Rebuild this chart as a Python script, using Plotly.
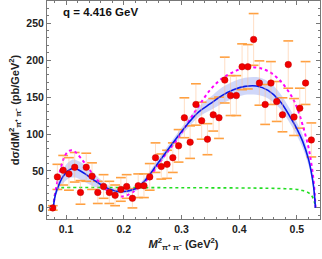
import plotly.graph_objects as go

# ---- data points ----
m2_pts = [0.077, 0.085, 0.095, 0.105, 0.115, 0.125, 0.135, 0.145, 0.155, 0.165,
          0.175, 0.185, 0.195, 0.205, 0.215, 0.225, 0.235, 0.245, 0.255, 0.265,
          0.275, 0.285, 0.295, 0.305, 0.315, 0.325, 0.335, 0.345, 0.355, 0.365,
          0.375, 0.385, 0.395, 0.405, 0.415, 0.425, 0.435, 0.445, 0.455, 0.465,
          0.475, 0.485, 0.495, 0.505, 0.515, 0.525]
xs_pts = [0, 42, 51, 46, 55, 21, 55, 43, 21, 29,
          21, 17, 25, 29, 13, 30, 30, 42, 68, 56,
          59, 68, 84, 122, 89, 140, 118, 93, 126, 122,
          173, 152, 152, 191, 191, 228, 169, 140, 169, 144,
          126, 194, 123, 135, 169, 92]
err_pts = [3, 17, 20, 22, 20, 16, 19, 18, 15, 16,
           15, 14, 16, 16, 13, 16, 16, 18, 20, 17,
           19, 20, 22, 27, 22, 28, 25, 21, 22, 28,
           31, 27, 27, 31, 30, 35, 30, 27, 29, 27,
           23, 32, 25, 27, 29, 23]

# ---- model curves ----
m2_curve = [0.0779, 0.080, 0.083, 0.087, 0.092, 0.097, 0.103, 0.110, 0.117, 0.125,
            0.135, 0.145, 0.155, 0.165, 0.175, 0.185, 0.195, 0.205, 0.215, 0.225,
            0.24, 0.255, 0.27, 0.29, 0.31, 0.33, 0.35, 0.37, 0.39, 0.41,
            0.43, 0.45, 0.47, 0.49, 0.50, 0.51, 0.52, 0.525, 0.529, 0.531, 0.5322]
blue_curve = [0, 12, 22, 30, 39, 45, 50, 53, 53, 50,
              45, 39.5, 34, 29.5, 25.5, 23, 22, 22.5, 24.5, 28,
              40, 56, 72, 93, 113, 130, 141, 152, 160, 164.5,
              165, 159, 145, 121, 107, 90, 66, 48, 28, 12, 0]
band_lo = [0, 10, 18, 24, 31, 35, 39, 41, 41, 38,
           34, 30, 27, 24, 21.5, 20, 19.5, 20, 21.5, 24.5,
           36, 51, 67, 88, 107, 123, 132, 141, 148, 153,
           153, 148, 135, 112, 98, 81, 58, 42, 24, 8, 0]
band_hi = [0, 14, 26, 36, 47, 55, 61, 65, 65, 62,
           56, 49, 42, 35.5, 29.5, 26, 24.5, 25, 27.5, 31.5,
           44, 61, 77, 98, 119, 137, 150, 163, 171, 176,
           177, 171, 156, 131, 116, 99, 74, 54, 32, 14, 0]
magenta_curve = [0, 14, 28, 42, 57, 69, 76, 78, 75, 68,
                 58, 47, 37, 28, 21.5, 17, 15.5, 17, 21, 27,
                 38, 53, 70, 90, 114, 138, 160, 175, 184, 190,
                 190, 185, 173, 152, 136, 112, 82, 60, 36, 17, 0]

m2_green = [0.0779, 0.079, 0.081, 0.084, 0.088, 0.10, 0.20, 0.30, 0.40, 0.45,
            0.48, 0.50, 0.51, 0.52, 0.526, 0.529, 0.531, 0.5322]
green_curve = [0, 12, 20, 25, 27, 27.5, 27.5, 27.3, 27, 26.6,
               26, 25, 23.5, 20.5, 16, 11, 6, 0]

FONT = "Liberation Sans, Arial, sans-serif"

fig = go.Figure()

# uncertainty band
fig.add_trace(go.Scatter(x=m2_curve, y=band_lo, mode="lines", line=dict(width=0, shape="spline"),
                         hoverinfo="skip", showlegend=False))
fig.add_trace(go.Scatter(x=m2_curve, y=band_hi, mode="lines", line=dict(width=0, shape="spline"),
                         fill="tonexty", fillcolor="rgba(110,130,235,0.32)",
                         hoverinfo="skip", showlegend=False))

# green dotted
fig.add_trace(go.Scatter(x=m2_green, y=green_curve, mode="lines",
                         line=dict(color="#22DD22", width=1.6, dash="dot", shape="spline"),
                         showlegend=False))

# error-bar caps
lo_caps = [v - e for v, e in zip(xs_pts, err_pts)]
hi_caps = [v + e for v, e in zip(xs_pts, err_pts)]
fig.add_trace(go.Scatter(x=m2_pts + m2_pts, y=lo_caps + hi_caps, mode="markers",
                         marker=dict(symbol="line-ew", size=7,
                                     line=dict(color="#FFA040", width=1.6)),
                         showlegend=False))

# magenta dotted
fig.add_trace(go.Scatter(x=m2_curve, y=magenta_curve, mode="lines",
                         line=dict(color="#FF00FF", width=2, dash="dot", shape="spline"),
                         showlegend=False))

# blue solid
fig.add_trace(go.Scatter(x=m2_curve, y=blue_curve, mode="lines",
                         line=dict(color="#0A1AE8", width=1.6, shape="spline"),
                         showlegend=False))

# data points with error bars
fig.add_trace(go.Scatter(x=m2_pts, y=xs_pts, mode="markers",
                         marker=dict(color="#F20000", size=6.5,
                                     line=dict(color="#C00000", width=0.5)),
                         error_y=dict(type="data", array=err_pts, visible=True,
                                      color="rgba(255,190,140,0.5)", thickness=1, width=0),
                         showlegend=False))

fig.add_annotation(x=0.0, y=0.985, xref="paper", yref="paper", xanchor="left", yanchor="top",
                   xshift=14, text="<b>q = 4.416 GeV</b>", showarrow=False,
                   font=dict(family=FONT, size=11.5, color="#111"))

axis_common = dict(showline=True, linecolor="#777", linewidth=1, mirror="allticks",
                   ticks="inside", ticklen=4, tickcolor="#777", tickwidth=1,
                   showgrid=False, zeroline=False,
                   tickfont=dict(family=FONT, size=10.5, color="#222"))

fig.update_xaxes(range=[0.067, 0.540], tickvals=[0.1, 0.2, 0.3, 0.4, 0.5],
                 ticktext=["<b>0.1</b>", "<b>0.2</b>", "<b>0.3</b>", "<b>0.4</b>", "<b>0.5</b>"],
                 minor=dict(ticks="inside", ticklen=2, tickcolor="#777", dtick=0.02),
                 title=dict(text="<b><i>M</i><sup>2</sup><sub>π⁺ π⁻</sub> (GeV<sup>2</sup>)</b>",
                            font=dict(family=FONT, size=11, color="#222"), standoff=6),
                 **axis_common)
fig.update_yaxes(range=[-15, 280], tickvals=[0, 50, 100, 150, 200, 250],
                 ticktext=["<b>0</b>", "<b>50</b>", "<b>100</b>", "<b>150</b>", "<b>200</b>", "<b>250</b>"],
                 minor=dict(ticks="inside", ticklen=2, tickcolor="#777", dtick=10),
                 title=dict(text="<b>dσ/dM<sup>2</sup><sub>π⁺ π⁻</sub> (pb/GeV<sup>2</sup>)</b>",
                            font=dict(family=FONT, size=11, color="#222"), standoff=4),
                 **axis_common)

fig.update_layout(width=322, height=259, margin=dict(l=47, r=2, t=1, b=40),
                  plot_bgcolor="white", paper_bgcolor="white")

fig.write_html("out.html", config={"displayModeBar": False},
               post_script="document.body.style.margin='0';document.body.style.overflow='hidden';")
